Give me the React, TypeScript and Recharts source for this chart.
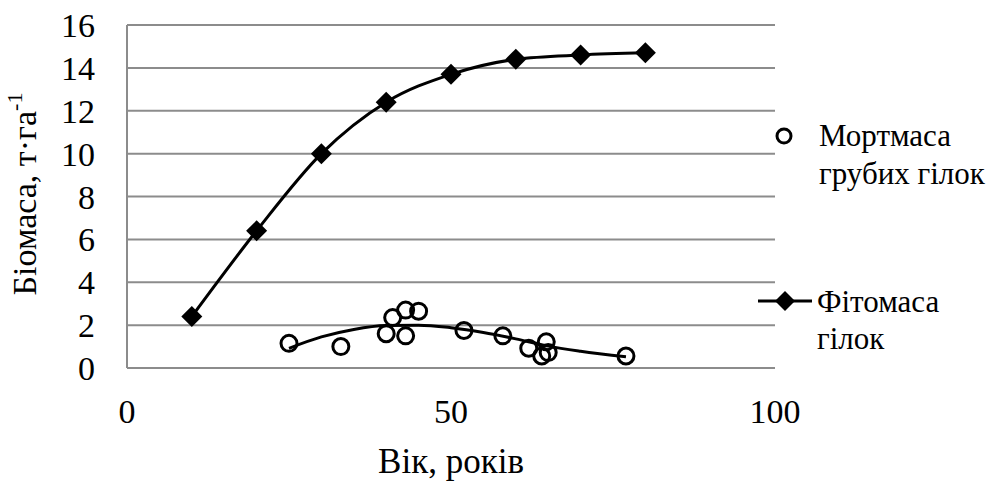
import {
  ComposedChart,
  Line,
  Scatter,
  XAxis,
  YAxis,
  CartesianGrid,
  Label,
} from 'recharts';

const FONT = 'Liberation Serif';

// Фітомаса гілок (age, t/ha)
const phytoAge = [10, 20, 30, 40, 50, 60, 70, 80];
const phytoMass = [2.4, 6.4, 10.0, 12.4, 13.7, 14.4, 14.6, 14.7];

// Мортмаса грубих гілок (age, t/ha)
const mortAge = [25, 33, 40, 41, 43, 45, 43, 52, 58, 62, 64.7, 64, 65, 77];
const mortMass = [1.15, 1.0, 1.6, 2.35, 2.7, 2.65, 1.5, 1.75, 1.5, 0.92, 1.22, 0.56, 0.72, 0.56];

// trend line for mortmass
const trendAge = [25, 30, 35, 40, 45, 50, 55, 60, 65, 70, 77];
const trendMass = [0.92, 1.45, 1.8, 1.98, 2.0, 1.88, 1.66, 1.36, 1.02, 0.78, 0.52];

const xTicks = [0, 50, 100];
const yTicks = [0, 2, 4, 6, 8, 10, 12, 14, 16];

const phytoData = phytoAge.map((x, i) => ({ x, y: phytoMass[i] }));
const mortData = mortAge.map((x, i) => ({ x, y: mortMass[i] }));
const trendData = trendAge.map((x, i) => ({ x, y: trendMass[i] }));

const GRID = '#8c8c8c';

function Diamond({ cx, cy }: any) {
  if (cx == null || cy == null) return null;
  const s = 10.5;
  return (
    <polygon
      points={`${cx},${cy - s} ${cx + s},${cy} ${cx},${cy + s} ${cx - s},${cy}`}
      fill="#000"
    />
  );
}

function Ring({ cx, cy }: any) {
  return <circle cx={cx} cy={cy} r={8} fill="none" stroke="#000" strokeWidth={3} />;
}

// legend drawn by hand, sits to the right of the plot
function LegendBox() {
  return (
    <svg
      width={240}
      height={250}
      style={{ position: 'absolute', left: 750, top: 115 }}
    >
      <circle cx={34} cy={21} r={7} fill="none" stroke="#000" strokeWidth={3} />
      <text x={69} y={31} fontSize={31} fontFamily={FONT}>Мортмаса</text>
      <text x={69} y={69} fontSize={31} fontFamily={FONT}>грубих гілок</text>
      <line x1={8} y1={186} x2={62} y2={186} stroke="#000" strokeWidth={3} />
      <polygon points="35,176 45,186 35,196 25,186" fill="#000" />
      <text x={67} y={197} fontSize={31} fontFamily={FONT}>Фітомаса</text>
      <text x={67} y={234} fontSize={31} fontFamily={FONT}>гілок</text>
    </svg>
  );
}

export default function App() {
  return (
    <div
      style={{
        position: 'absolute',
        left: 0,
        top: 0,
        width: 991,
        height: 482,
        background: '#fff',
        fontFamily: 'Liberation Serif, serif',
      }}
    >
      <ComposedChart
        width={991}
        height={482}
        margin={{ top: 25, right: 216, bottom: 0, left: 0 }}
      >
        <CartesianGrid vertical={false} stroke={GRID} strokeWidth={2} />
        <XAxis
          type="number"
          dataKey="x"
          domain={[0, 100]}
          ticks={xTicks}
          height={114}
          stroke={GRID}
          strokeWidth={2}
          tickLine={false}
          tickSize={0}
          tickMargin={31}
          tick={{ fill: '#000', fontSize: 34, fontFamily: FONT }}
        >
          <Label
            content={({ viewBox }: any) => (
              <text
                x={viewBox.x + viewBox.width / 2}
                y={viewBox.y + 105}
                textAnchor="middle"
                fontSize={35}
                fontFamily={FONT}
              >
                Вік, років
              </text>
            )}
          />
        </XAxis>
        <YAxis
          type="number"
          dataKey="y"
          domain={[0, 16]}
          ticks={yTicks}
          interval={0}
          width={127}
          stroke={GRID}
          strokeWidth={2}
          tickLine={false}
          tickSize={0}
          tickMargin={32}
          tick={{ fill: '#000', fontSize: 34, fontFamily: FONT }}
        >
          <Label
            content={() => (
              <text
                transform="translate(36,194) rotate(-90)"
                textAnchor="middle"
                fontSize={34}
                fontFamily={FONT}
              >
                Біомаса, т·га
                <tspan fontSize={22} dy={-14}>-1</tspan>
              </text>
            )}
          />
        </YAxis>
        <Line
          data={trendData}
          dataKey="y"
          type="monotone"
          stroke="#000"
          strokeWidth={3}
          dot={false}
          activeDot={false}
          isAnimationActive={false}
        />
        <Scatter
          data={mortData}
          dataKey="y"
          name="Мортмаса грубих гілок"
          shape={<Ring />}
          isAnimationActive={false}
        />
        <Line
          data={phytoData}
          dataKey="y"
          name="Фітомаса гілок"
          type="monotone"
          stroke="#000"
          strokeWidth={3}
          dot={<Diamond />}
          activeDot={false}
          isAnimationActive={false}
        />
      </ComposedChart>
      <LegendBox />
    </div>
  );
}
